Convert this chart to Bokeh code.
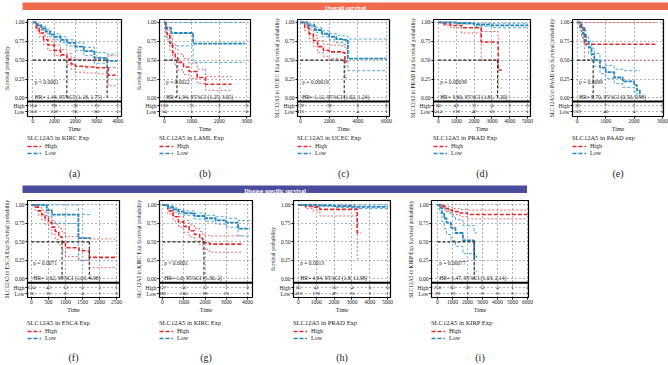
from bokeh.plotting import figure
from bokeh.layouts import row, column
from bokeh.models import (Range1d, FixedTicker, CustomJSTickFormatter, Span, Legend,
                          LegendItem, Label, Spacer)
from bokeh.embed import file_html
from bokeh.resources import INLINE
from bokeh.core.properties import value

# ---------------- data ----------------
HEADER_TOP = "Overall survival"
HEADER_BOTTOM = "Disease specific survival"
CAPTIONS = ["(a)", "(b)", "(c)", "(d)", "(e)", "(f)", "(g)", "(h)", "(i)"]

# (a) KIRC, overall survival
A_HIGH_T = [0, 150, 300, 500, 700, 1000, 1300, 1600, 1800, 2000, 2500, 3000, 3550, 3900]
A_HIGH_S = [1.0, 0.93, 0.86, 0.77, 0.70, 0.63, 0.57, 0.51, 0.45, 0.42, 0.41, 0.40, 0.30, 0.30]
A_HIGH_U = [1.0, 0.97, 0.91, 0.83, 0.77, 0.70, 0.64, 0.59, 0.53, 0.51, 0.50, 0.50, 0.56, 0.56]
A_HIGH_L = [1.0, 0.89, 0.81, 0.71, 0.63, 0.56, 0.50, 0.44, 0.38, 0.34, 0.33, 0.32, 0.16, 0.16]
A_LOW_T = [0, 200, 400, 600, 800, 1000, 1300, 1600, 2000, 2400, 2900, 3500, 4000]
A_LOW_S = [1.0, 0.96, 0.92, 0.88, 0.84, 0.81, 0.77, 0.73, 0.68, 0.62, 0.53, 0.49, 0.49]
A_LOW_U = [1.0, 0.98, 0.95, 0.91, 0.88, 0.85, 0.81, 0.77, 0.73, 0.67, 0.60, 0.58, 0.58]
A_LOW_L = [1.0, 0.94, 0.89, 0.85, 0.81, 0.77, 0.73, 0.69, 0.63, 0.56, 0.46, 0.40, 0.40]
A_MEDIANS = [1600, 3500]
A_RISK_T = [0, 1000, 2000, 3000, 4000]
A_RISK_HIGH = [164, 98, 38, 10, 1]
A_RISK_LOW = [356, 239, 96, 60, 3]
A_P = "p < 0.0001"
A_HR = "HR= 1.44, 95%CI (1.18, 1.75)"
A_NAME = "SLC12A5 in KIRC Exp"
A_YLAB = "Survival probability"

# (b) LAML, overall survival
B_HIGH_T = [0, 50, 100, 200, 300, 400, 500, 700, 900, 1200, 1500, 2450]
B_HIGH_S = [1.0, 0.92, 0.84, 0.72, 0.60, 0.53, 0.47, 0.41, 0.35, 0.27, 0.18, 0.18]
B_HIGH_U = [1.0, 0.97, 0.92, 0.82, 0.71, 0.64, 0.58, 0.52, 0.46, 0.38, 0.28, 0.28]
B_HIGH_L = [1.0, 0.87, 0.77, 0.63, 0.50, 0.43, 0.37, 0.31, 0.26, 0.19, 0.10, 0.10]
B_LOW_T = [0, 60, 250, 1050, 2950]
B_LOW_S = [1.0, 0.93, 0.86, 0.72, 0.72]
B_LOW_U = [1.0, 1.0, 1.0, 1.0, 1.0]
B_LOW_L = [1.0, 0.80, 0.69, 0.47, 0.47]
B_MEDIANS = [460]
B_RISK_T = [0, 1000, 2000, 3000]
B_RISK_HIGH = [136, 31, 2, 0]
B_RISK_LOW = [14, 5, 2, 0]
B_P = "p = 0.0022"
B_HR = "HR= 1.94, 95%CI (1.25, 3.05)"
B_NAME = "SLC12A5 in LAML Exp"
B_YLAB = "Survival probability"

# (c) UCEC, overall survival
C_HIGH_T = [0, 300, 600, 900, 1200, 1600, 2000, 2800, 3100, 3250]
C_HIGH_S = [1.0, 0.93, 0.85, 0.76, 0.68, 0.63, 0.61, 0.60, 0.48, 0.48]
C_HIGH_U = [1.0, 0.97, 0.91, 0.83, 0.76, 0.71, 0.70, 0.69, 0.65, 0.65]
C_HIGH_L = [1.0, 0.89, 0.79, 0.68, 0.60, 0.55, 0.52, 0.50, 0.27, 0.27]
C_LOW_T = [0, 500, 1000, 1500, 2000, 2500, 3000, 3300, 6000]
C_LOW_S = [1.0, 0.96, 0.90, 0.85, 0.81, 0.78, 0.77, 0.52, 0.52]
C_LOW_U = [1.0, 0.98, 0.93, 0.89, 0.85, 0.83, 0.82, 0.78, 0.78]
C_LOW_L = [1.0, 0.94, 0.87, 0.81, 0.77, 0.73, 0.71, 0.36, 0.36]
C_MEDIANS = [3050]
C_RISK_T = [0, 2000, 4000, 6000]
C_RISK_HIGH = [129, 38, 0, 0]
C_RISK_LOW = [413, 97, 4, 1]
C_P = "p = 0.00019"
C_HR = "HR= 1.12, 95%CI (1.02, 1.24)"
C_NAME = "SLC12A5 in UCEC Exp"
C_YLAB = "SLC12A5 in UCEC Exp Survival probability"

# (d) PRAD, overall survival
D_HIGH_T = [0, 300, 700, 1300, 2400, 3350, 3550]
D_HIGH_S = [1.0, 0.98, 0.96, 0.93, 0.74, 0.37, 0.37]
D_HIGH_U = [1.0, 1.0, 0.99, 0.98, 0.88, 0.78, 0.78]
D_HIGH_L = [1.0, 0.96, 0.93, 0.86, 0.50, 0.13, 0.13]
D_LOW_T = [0, 1000, 2000, 3000, 5000]
D_LOW_S = [1.0, 0.99, 0.97, 0.96, 0.95]
D_LOW_U = [1.0, 1.0, 0.99, 0.99, 0.99]
D_LOW_L = [1.0, 0.98, 0.95, 0.93, 0.92]
D_MEDIANS = [3320]
D_RISK_T = [0, 1000, 2000, 3000, 4000, 5000]
D_RISK_HIGH = [84, 42, 11, 4, 0, 0]
D_RISK_LOW = [414, 178, 49, 10, 1, 1]
D_P = "p = 0.00039"
D_HR = "HR= 3.60, 95%CI (1.81, 7.20)"
D_NAME = "SLC12A5 in PRAD Exp"
D_YLAB = "SLC12A5 in PRAD Exp Survival probability"

# (e) PAAD, overall survival
E_HIGH_T = [0, 150, 250, 2800]
E_HIGH_S = [1.0, 0.94, 0.71, 0.71]
E_HIGH_U = [1.0, 1.0, 1.0, 1.0]
E_HIGH_L = [1.0, 0.80, 0.50, 0.50]
E_LOW_T = [0, 100, 200, 300, 400, 500, 600, 800, 1000, 1300, 1600, 2000, 2100, 2200]
E_LOW_S = [1.0, 0.93, 0.85, 0.75, 0.67, 0.58, 0.50, 0.40, 0.34, 0.27, 0.22, 0.17, 0.10, 0.05]
E_LOW_U = [1.0, 0.97, 0.91, 0.82, 0.75, 0.66, 0.59, 0.49, 0.43, 0.38, 0.36, 0.36, 0.36, 0.36]
E_LOW_L = [1.0, 0.89, 0.79, 0.68, 0.59, 0.50, 0.42, 0.32, 0.26, 0.19, 0.14, 0.08, 0.03, 0.01]
E_MEDIANS = [560]
E_RISK_T = [0, 1000, 2000, 3000]
E_RISK_HIGH = [18, 7, 2, 0]
E_RISK_LOW = [159, 46, 4, 0]
E_P = "p = 0.0099"
E_HR = "HR= 0.70, 95%CI (0.50, 0.98)"
E_NAME = "SLC12A5 in PAAD exp"
E_YLAB = "SLC12A5 in PAAD exp Survival probability"

# (f) ESCA, disease specific survival
F_HIGH_T = [0, 100, 200, 300, 400, 500, 600, 700, 800, 900, 1000, 1400, 1700, 2500]
F_HIGH_S = [1.0, 0.97, 0.92, 0.87, 0.82, 0.76, 0.70, 0.64, 0.57, 0.50, 0.42, 0.38, 0.29, 0.29]
F_HIGH_U = [1.0, 1.0, 0.97, 0.93, 0.89, 0.84, 0.79, 0.74, 0.68, 0.62, 0.57, 0.55, 0.54, 0.54]
F_HIGH_L = [1.0, 0.93, 0.86, 0.80, 0.74, 0.67, 0.60, 0.53, 0.46, 0.38, 0.30, 0.25, 0.15, 0.15]
F_LOW_T = [0, 450, 600, 1380, 1750]
F_LOW_S = [1.0, 0.93, 0.87, 0.55, 0.55]
F_LOW_U = [1.0, 1.0, 1.0, 0.87, 0.87]
F_LOW_L = [1.0, 0.85, 0.75, 0.25, 0.25]
F_MEDIANS = [900, 1700]
F_RISK_T = [0, 500, 1000, 1500, 2000, 2500]
F_RISK_HIGH = [124, 43, 13, 6, 3, 1]
F_RISK_LOW = [16, 16, 6, 4, 1, 0]
F_P = "p = 0.0071"
F_HR = "HR= 1.62, 95%CI (1.03, 4.98)"
F_NAME = "SLC12A5 in ESCA Exp"
F_YLAB = "SLC12A5 in ESCA Exp Survival probability"

# (g) KIRC, disease specific survival
G_HIGH_T = [0, 250, 500, 750, 1000, 1250, 1500, 1750, 1900, 2200, 3800]
G_HIGH_S = [1.0, 0.92, 0.84, 0.77, 0.71, 0.65, 0.60, 0.55, 0.49, 0.47, 0.47]
G_HIGH_U = [1.0, 0.96, 0.90, 0.84, 0.79, 0.73, 0.68, 0.64, 0.59, 0.58, 0.58]
G_HIGH_L = [1.0, 0.88, 0.78, 0.70, 0.63, 0.57, 0.51, 0.46, 0.40, 0.36, 0.36]
G_LOW_T = [0, 250, 500, 750, 1000, 1500, 2000, 2500, 3000, 3550, 4100]
G_LOW_S = [1.0, 0.97, 0.94, 0.91, 0.89, 0.85, 0.82, 0.79, 0.76, 0.68, 0.68]
G_LOW_U = [1.0, 0.99, 0.96, 0.94, 0.92, 0.89, 0.86, 0.84, 0.82, 0.79, 0.79]
G_LOW_L = [1.0, 0.95, 0.92, 0.88, 0.86, 0.81, 0.78, 0.74, 0.70, 0.58, 0.58]
G_MEDIANS = [1950]
G_RISK_T = [0, 1000, 2000, 3000, 4000]
G_RISK_HIGH = [137, 56, 21, 7, 0]
G_RISK_LOW = [382, 246, 98, 23, 3]
G_P = "p < 0.0001"
G_HR = "HR= 1.6, 95%CI (1.30, 2)"
G_NAME = "SLC12A5 in KIRC Exp"
G_YLAB = "SLC12A5 in KIRC Exp Survival probability"

# (h) PRAD, disease specific survival
H_HIGH_T = [0, 400, 800, 1200, 3300, 3500]
H_HIGH_S = [1.0, 0.98, 0.97, 0.94, 0.62, 0.62]
H_HIGH_U = [1.0, 1.0, 1.0, 0.99, 0.95, 0.95]
H_HIGH_L = [1.0, 0.95, 0.92, 0.85, 0.27, 0.27]
H_LOW_T = [0, 1000, 2000, 3000, 5000]
H_LOW_S = [1.0, 0.995, 0.985, 0.975, 0.97]
H_LOW_U = [1.0, 1.0, 1.0, 1.0, 1.0]
H_LOW_L = [1.0, 0.98, 0.965, 0.95, 0.94]
H_MEDIANS = []
H_RISK_T = [0, 1000, 2000, 3000, 4000, 5000]
H_RISK_HIGH = [85, 41, 10, 4, 0, 0]
H_RISK_LOW = [410, 178, 49, 10, 3, 1]
H_P = "p = 0.0013"
H_HR = "HR= 4.64, 95%CI (1.8, 11.98)"
H_NAME = "SLC12A5 in PRAD Exp"
H_YLAB = "Survival probability"

# (i) KIRP, disease specific survival
I_HIGH_T = [0, 250, 500, 750, 1000, 1500, 2000, 6000]
I_HIGH_S = [1.0, 0.98, 0.95, 0.93, 0.91, 0.89, 0.87, 0.87]
I_HIGH_U = [1.0, 1.0, 0.98, 0.97, 0.95, 0.94, 0.93, 0.93]
I_HIGH_L = [1.0, 0.96, 0.92, 0.89, 0.87, 0.84, 0.81, 0.81]
I_LOW_T = [0, 150, 300, 450, 600, 900, 1200, 1700, 2450, 2650]
I_LOW_S = [1.0, 0.96, 0.89, 0.82, 0.76, 0.69, 0.62, 0.52, 0.30, 0.30]
I_LOW_U = [1.0, 1.0, 0.99, 0.95, 0.91, 0.85, 0.80, 0.72, 0.62, 0.62]
I_LOW_L = [1.0, 0.89, 0.77, 0.68, 0.60, 0.52, 0.44, 0.34, 0.10, 0.10]
I_MEDIANS = [2450]
I_RISK_T = [0, 1000, 2000, 3000, 4000, 5000, 6000]
I_RISK_HIGH = [258, 85, 39, 12, 4, 1, 0]
I_RISK_LOW = [28, 10, 3, 0, 0, 0, 0]
I_P = "p = 0.00077"
I_HR = "HR= 1.47, 95%CI (1.03, 2.14)"
I_NAME = "SLC12A5 in KIRP Exp"
I_YLAB = "SLC12A5 in KIRP Exp Survival probability"

# ---------------- style / geometry ----------------
FONT = "Liberation Serif"
RED = "#E2282C"
RED_CI = "#EA5356"
BLUE = "#2786BC"
BLUE_CI = "#3E9ECF"
ORANGE = "#F06A4C"
PURPLE = "#4B4C9B"

PANELS = [
    dict(ht=A_HIGH_T, hs=A_HIGH_S, hu=A_HIGH_U, hl=A_HIGH_L, lt=A_LOW_T, ls=A_LOW_S, lu=A_LOW_U, ll=A_LOW_L,
         med=A_MEDIANS, rt=A_RISK_T, rh=A_RISK_HIGH, rl=A_RISK_LOW, p=A_P, hr=A_HR, name=A_NAME, ylab=A_YLAB,
         xr=(-258, 4180)),
    dict(ht=B_HIGH_T, hs=B_HIGH_S, hu=B_HIGH_U, hl=B_HIGH_L, lt=B_LOW_T, ls=B_LOW_S, lu=B_LOW_U, ll=B_LOW_L,
         med=B_MEDIANS, rt=B_RISK_T, rh=B_RISK_HIGH, rl=B_RISK_LOW, p=B_P, hr=B_HR, name=B_NAME, ylab=B_YLAB,
         xr=(-174, 3139)),
    dict(ht=C_HIGH_T, hs=C_HIGH_S, hu=C_HIGH_U, hl=C_HIGH_L, lt=C_LOW_T, ls=C_LOW_S, lu=C_LOW_U, ll=C_LOW_L,
         med=C_MEDIANS, rt=C_RISK_T, rh=C_RISK_HIGH, rl=C_RISK_LOW, p=C_P, hr=C_HR, name=C_NAME, ylab=C_YLAB,
         xr=(-202, 6202)),
    dict(ht=D_HIGH_T, hs=D_HIGH_S, hu=D_HIGH_U, hl=D_HIGH_L, lt=D_LOW_T, ls=D_LOW_S, lu=D_LOW_U, ll=D_LOW_L,
         med=D_MEDIANS, rt=D_RISK_T, rh=D_RISK_HIGH, rl=D_RISK_LOW, p=D_P, hr=D_HR, name=D_NAME, ylab=D_YLAB,
         xr=(-269, 5161)),
    dict(ht=E_HIGH_T, hs=E_HIGH_S, hu=E_HIGH_U, hl=E_HIGH_L, lt=E_LOW_T, ls=E_LOW_S, lu=E_LOW_U, ll=E_LOW_L,
         med=E_MEDIANS, rt=E_RISK_T, rh=E_RISK_HIGH, rl=E_RISK_LOW, p=E_P, hr=E_HR, name=E_NAME, ylab=E_YLAB,
         xr=(-167, 3033)),
    dict(ht=F_HIGH_T, hs=F_HIGH_S, hu=F_HIGH_U, hl=F_HIGH_L, lt=F_LOW_T, ls=F_LOW_S, lu=F_LOW_U, ll=F_LOW_L,
         med=F_MEDIANS, rt=F_RISK_T, rh=F_RISK_HIGH, rl=F_RISK_LOW, p=F_P, hr=F_HR, name=F_NAME, ylab=F_YLAB,
         xr=(-115, 2586)),
    dict(ht=G_HIGH_T, hs=G_HIGH_S, hu=G_HIGH_U, hl=G_HIGH_L, lt=G_LOW_T, ls=G_LOW_S, lu=G_LOW_U, ll=G_LOW_L,
         med=G_MEDIANS, rt=G_RISK_T, rh=G_RISK_HIGH, rl=G_RISK_LOW, p=G_P, hr=G_HR, name=G_NAME, ylab=G_YLAB,
         xr=(-138, 4230)),
    dict(ht=H_HIGH_T, hs=H_HIGH_S, hu=H_HIGH_U, hl=H_HIGH_L, lt=H_LOW_T, ls=H_LOW_S, lu=H_LOW_U, ll=H_LOW_L,
         med=H_MEDIANS, rt=H_RISK_T, rh=H_RISK_HIGH, rl=H_RISK_LOW, p=H_P, hr=H_HR, name=H_NAME, ylab=H_YLAB,
         xr=(-275, 5165)),
    dict(ht=I_HIGH_T, hs=I_HIGH_S, hu=I_HIGH_U, hl=I_HIGH_L, lt=I_LOW_T, ls=I_LOW_S, lu=I_LOW_U, ll=I_LOW_L,
         med=I_MEDIANS, rt=I_RISK_T, rh=I_RISK_HIGH, rl=I_RISK_LOW, p=I_P, hr=I_HR, name=I_NAME, ylab=I_YLAB,
         xr=(-396, 6066)),
]

# frame edges (pixels); plots in a row share their border sizes, spacers fill the gaps
TOP_FRAMES = [(23, 121), (155, 250), (293, 389), (429, 530), (568, 663)]
BOT_FRAMES = [(25, 119), (157, 252), (291, 390), (429, 528)]
TOP_ROW = dict(y0=10, y1=183, ft=19, fb=118, yr=(-0.247, 1.039), hy=-0.104, ly=-0.182, sep=-0.048,
               leg_top=0, cap_y=173, bl=23, br=5)
BOT_ROW = dict(y0=193, y1=365, ft=200, fb=299, yr=(-0.253, 1.06), hy=-0.12, ly=-0.2, sep=-0.053,
               leg_top=4, cap_y=357, bl=25, br=5)
AXIS_H = 16  # pixels below the frame used by the x axis
OFF = -100000.0  # legend helper figure looks at an empty stretch of its x scale

FMT_CODE = """
if (tick < -0.15) { return 'Low'; }
if (tick < -0.05) { return 'High'; }
return tick.toFixed(2);
"""


def make_panel(d, caption, rw):
    bl, br = rw["bl"], rw["br"]
    w = rw["fw"] + bl + br
    bt = rw["ft"] - rw["y0"]
    h_main = rw["fb"] - rw["y0"] + AXIS_H
    p = figure(width=w, height=h_main, title=None, toolbar_location=None, output_backend="svg",
               x_range=Range1d(*d["xr"]), y_range=Range1d(*rw["yr"]),
               min_border_left=bl, min_border_right=br, min_border_top=bt, min_border_bottom=AXIS_H)
    p.background_fill_color = "white"
    p.border_fill_color = "white"
    p.outline_line_color = "black"
    p.outline_line_width = 1.2

    xt = FixedTicker(ticks=d["rt"])
    yt = FixedTicker(ticks=[rw["ly"], rw["hy"], 0, 0.25, 0.5, 0.75, 1.0])
    p.xaxis.ticker = xt
    p.yaxis.ticker = yt
    p.xgrid.ticker = xt
    p.ygrid.ticker = yt
    p.yaxis.formatter = CustomJSTickFormatter(code=FMT_CODE)
    p.xaxis.axis_label = "Time"
    p.yaxis.axis_label = d["ylab"]
    for ax in (p.xaxis[0], p.yaxis[0]):
        ax.axis_line_color = None
        ax.major_tick_line_color = "black"
        ax.major_tick_out = 2
        ax.major_tick_in = 0
        ax.minor_tick_line_color = None
        ax.major_label_text_font = FONT
        ax.major_label_text_font_size = "5.5px"
        ax.major_label_text_color = "#222222"
        ax.axis_label_text_font = FONT
        ax.axis_label_text_font_style = "normal"
        ax.axis_label_text_color = "#222222"
        ax.major_label_standoff = 0
        ax.axis_label_standoff = 0
    p.xaxis.axis_label_text_font_size = "6px"
    p.yaxis.axis_label_text_font_size = "5.5px"
    p.yaxis.axis_label_standoff = 1
    p.yaxis.major_label_standoff = 1
    for g in (p.xgrid[0], p.ygrid[0]):
        g.grid_line_color = "#555555"
        g.grid_line_dash = "1 3"
        g.grid_line_width = 0.9

    # confidence bands
    p.step(x=d["ht"], y=d["hu"], mode="after", line_color=RED_CI, line_width=0.9, line_dash="2 2")
    p.step(x=d["ht"], y=d["hl"], mode="after", line_color=RED_CI, line_width=0.9, line_dash="2 2")
    p.step(x=d["lt"], y=d["lu"], mode="after", line_color=BLUE_CI, line_width=0.9, line_dash="3 2")
    p.step(x=d["lt"], y=d["ll"], mode="after", line_color=BLUE_CI, line_width=0.9, line_dash="3 2")
    # main curves
    p.step(x=d["ht"], y=d["hs"], mode="after", line_color=RED, line_width=1.6, line_dash="4 2")
    p.step(x=d["lt"], y=d["ls"], mode="after", line_color=BLUE, line_width=1.8, line_dash="4 1")

    # median survival lines
    meds = d["med"]
    if meds:
        p.segment(x0=[0] + meds, y0=[0.5] * (len(meds) + 1), x1=[max(meds)] + meds,
                  y1=[0.5] + [0] * len(meds), line_color="#222222", line_width=1.1, line_dash="3 2")

    # separator between plot and risk table
    p.add_layout(Span(location=rw["sep"], dimension="width", line_color="black", line_width=2))

    # risk table
    n = len(d["rt"])
    p.text(x=d["rt"] + d["rt"], y=[rw["hy"]] * n + [rw["ly"]] * n,
           text=[str(v) for v in d["rh"]] + [str(v) for v in d["rl"]],
           text_font=value(FONT), text_font_size="5px", text_align="center", text_baseline="middle",
           text_color="#222222")

    # p value / hazard ratio
    tx = d["xr"][1] * 0.02
    p.text(x=[tx, tx], y=[0.21, 0.012], text=[d["p"], d["hr"]], text_font=value(FONT),
           text_font_size="5.5px", text_align="left", text_baseline="middle", text_color="#222222")

    # legend + caption in a figure of their own, right below
    h_leg = rw["y1"] - rw["y0"] - h_main
    fw = rw["fw"]
    fh = h_leg - rw["leg_top"]
    q = figure(width=w, height=h_leg, title=None, toolbar_location=None, output_backend="svg",
               x_range=Range1d(OFF, OFF + fw), y_range=Range1d(0, fh), x_axis_type=None, y_axis_type=None,
               min_border_left=bl, min_border_right=br, min_border_top=rw["leg_top"], min_border_bottom=0)
    q.outline_line_color = None
    q.background_fill_color = "white"
    q.border_fill_color = "white"
    gh = q.line(x=d["ht"], y=d["hs"], line_color=RED, line_width=1.3, line_dash="4 2")
    gl = q.line(x=d["lt"], y=d["ls"], line_color=BLUE, line_width=1.3, line_dash="4 2")
    leg = Legend(items=[LegendItem(label="High", renderers=[gh]),
                        LegendItem(label="Low", renderers=[gl])],
                 title=d["name"], location="top_left", orientation="vertical",
                 margin=0, padding=0, spacing=1, glyph_width=14, glyph_height=6, label_height=6,
                 label_standoff=4, title_standoff=2, border_line_color=None, background_fill_alpha=0,
                 label_text_font=FONT, label_text_font_size="6px", label_text_color="#222222",
                 title_text_font=FONT, title_text_font_size="6.5px", title_text_font_style="normal",
                 title_text_color="#222222")
    q.add_layout(leg, "center")
    cap_off = rw["cap_y"] - rw["y0"] - h_main - rw["leg_top"]
    q.add_layout(Label(x=OFF + fw / 2, y=fh - cap_off, text=caption, text_align="center",
                       text_baseline="middle", text_font=FONT, text_font_size="10px",
                       text_color="#222222"))
    return column(p, q)


def build_row(first, frames, rw):
    items = []
    cursor = 0
    h = rw["y1"] - rw["y0"]
    for k, (fl, fr) in enumerate(frames):
        start = max(fl - rw["bl"], cursor)
        if start > cursor:
            items.append(Spacer(width=start - cursor, height=h, margin=0))
        cfg = dict(rw, fw=fr - (start + rw["bl"]))
        items.append(make_panel(PANELS[first + k], CAPTIONS[first + k], cfg))
        cursor = start + rw["bl"] + cfg["fw"] + rw["br"]
    return row(*items)


def header(text, x0, x1, y0, y1, color):
    w = x1 - x0
    h = y1 - y0
    f = figure(width=w, height=h, title=None, toolbar_location=None, output_backend="svg",
               x_range=Range1d(0, 1), y_range=Range1d(0, 1), x_axis_type=None, y_axis_type=None,
               min_border=0)
    f.outline_line_color = None
    f.background_fill_color = color
    f.border_fill_color = color
    f.add_layout(Label(x=0.5, y=0.5, text=text, text_align="center", text_baseline="middle",
                       text_color="white", text_font=FONT, text_font_size="6px", text_font_style="bold"))
    return row(Spacer(width=x0, height=h, margin=0), f)


layout = column(
    header(HEADER_TOP, 22, 668, 0, 10, ORANGE),
    build_row(0, TOP_FRAMES, TOP_ROW),
    header(HEADER_BOTTOM, 22, 527, 183, 193, PURPLE),
    build_row(5, BOT_FRAMES, BOT_ROW),
)

open("out.html", "w").write(file_html(layout, INLINE))
